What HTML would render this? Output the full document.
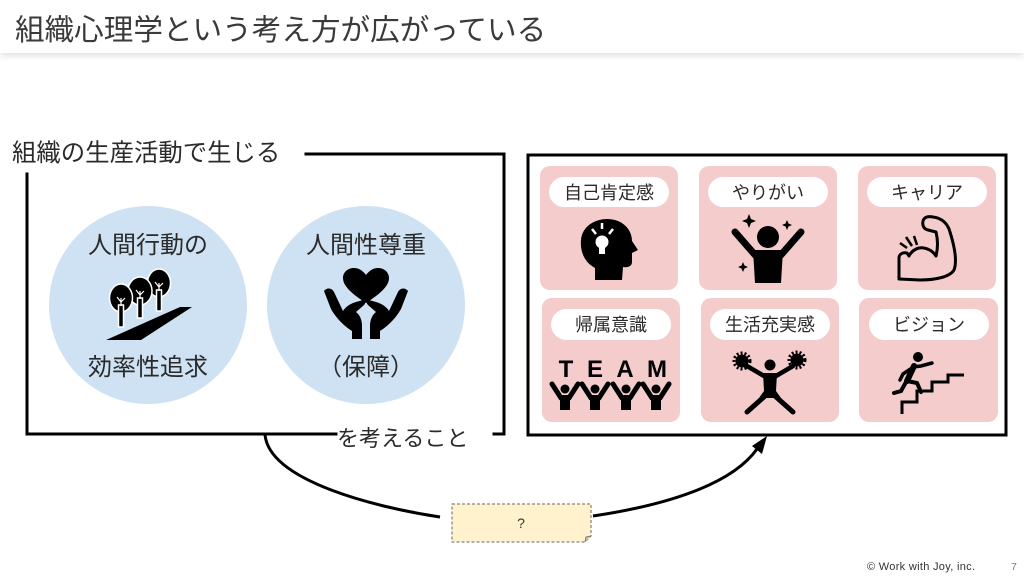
<!DOCTYPE html>
<html><head><meta charset="utf-8">
<style>
html,body{margin:0;padding:0;background:#fff;}
body{width:1024px;height:576px;overflow:hidden;position:relative;font-family:"Liberation Sans","Noto Sans CJK JP",sans-serif;}
.hdr{position:absolute;left:0;top:0;width:1024px;height:53px;background:#fff;box-shadow:0 3px 6px rgba(0,0,0,0.12);}
svg{position:absolute;left:0;top:0;}
text{font-family:"Liberation Sans","Noto Sans CJK JP",sans-serif;}
</style></head>
<body>
<div class="hdr"></div>
<svg width="1024" height="576" viewBox="0 0 1024 576">
  <!-- title -->
  <text x="15" y="40" font-size="29.6" fill="#3a3a3a">組織心理学という考え方が広がっている</text>

  <!-- left box -->
  <text x="12" y="161" font-size="24.4" fill="#2a2a2a">組織の生産活動で生じる</text>
  <g stroke="#000" stroke-width="3" fill="none" stroke-linecap="square">
    <line x1="306" y1="154" x2="504" y2="154"/>
    <line x1="504" y1="154" x2="504" y2="434"/>
    <line x1="494" y1="434" x2="504" y2="434"/>
    <line x1="27" y1="434" x2="336" y2="434"/>
    <line x1="27" y1="174" x2="27" y2="434"/>
  </g>
  <text x="337" y="446" font-size="22" fill="#2a2a2a">を考えること</text>

  <!-- circles -->
  <circle cx="148" cy="305" r="99" fill="#cfe2f3"/>
  <circle cx="366" cy="305" r="99" fill="#cfe2f3"/>
  <g font-size="24" fill="#2a2a2a" text-anchor="middle">
    <text x="148" y="253">人間行動の</text>
    <text x="148" y="375">効率性追求</text>
    <text x="366" y="253">人間性尊重</text>
    <text x="366" y="375">（保障）</text>
  </g>
  <!-- trees icon -->
  <polygon points="106,340 141,340 192,307 180,307" fill="#000"/>
  <g stroke="#fff" stroke-width="1.5">
    <ellipse cx="159" cy="283" rx="11.5" ry="14" fill="#000"/>
    <rect x="156.5" y="290" width="5" height="21" fill="#000"/>
    <ellipse cx="140" cy="291" rx="12" ry="14" fill="#000"/>
    <rect x="137.5" y="298" width="5" height="20" fill="#000"/>
    <ellipse cx="121" cy="298" rx="11.5" ry="14" fill="#000"/>
    <rect x="118.5" y="305" width="5" height="22" fill="#000"/>
  </g>
  <g stroke="#fff" stroke-width="1.2" fill="none">
    <path d="M121 306 L121 298 M121 302 L117 297 M121 302 L125 298"/>
    <path d="M140 299 L140 291 M140 295 L136 290 M140 295 L144 291"/>
    <path d="M159 291 L159 283 M159 287 L155 282 M159 287 L163 283"/>
  </g>
  <!-- heart hands -->
  <path d="M366 303 C354 295 343 287 343 278 C343 272 348 268 354 268 C359 268 363 271 366 275 C369 271 373 268 378 268 C384 268 389 272 389 278 C389 287 378 295 366 303 Z" fill="#000"/>
  <path d="M324 291 C327 287 332 288 334 292 L343 311 C346 306 352 303 356 302 L363 300 C366 300 366 303 364 305 L356 312 C360 315 362 320 362 326 L362 339 L352 339 L352 331 C344 326 336 318 331 309 Z" fill="#000"/>
  <path d="M408 291 C405 287 400 288 398 292 L389 311 C386 306 380 303 376 302 L369 300 C366 300 366 303 368 305 L376 312 C372 315 370 320 370 326 L370 339 L380 339 L380 331 C388 326 396 318 401 309 Z" fill="#000"/>

  <!-- right box -->
  <rect x="528" y="155" width="478" height="280" fill="none" stroke="#000" stroke-width="3"/>
  <g fill="#f4cccc">
    <rect x="540" y="166" width="138" height="124" rx="10"/>
    <rect x="699" y="166" width="138" height="124" rx="10"/>
    <rect x="858" y="166" width="138" height="124" rx="10"/>
    <rect x="542" y="298" width="138" height="124" rx="10"/>
    <rect x="701" y="298" width="138" height="124" rx="10"/>
    <rect x="859" y="298" width="139" height="124" rx="10"/>
  </g>
  <g fill="#fff">
    <rect x="549" y="177" width="120" height="30" rx="15"/>
    <rect x="708" y="177" width="120" height="30" rx="15"/>
    <rect x="867" y="177" width="120" height="30" rx="15"/>
    <rect x="551" y="309" width="120" height="31" rx="15.5"/>
    <rect x="710" y="309" width="120" height="31" rx="15.5"/>
    <rect x="869" y="309" width="120" height="31" rx="15.5"/>
  </g>
  <g font-size="18" fill="#2a2a2a" text-anchor="middle">
    <text x="609" y="199">自己肯定感</text>
    <text x="768" y="199">やりがい</text>
    <text x="927" y="199">キャリア</text>
    <text x="611" y="331">帰属意識</text>
    <text x="770" y="331">生活充実感</text>
    <text x="929" y="331">ビジョン</text>
  </g>

  <!-- head bulb icon -->
  <path d="M595 280 L595 268 C584 262 580 251 581 240 C582 227 594 219 607 219 C622 219 632 229 632 241 L638 250 L632 253 L632 262 C632 266 628 268 623 267 L622 280 Z" fill="#000"/>
  <circle cx="602" cy="242" r="6.5" fill="#fff"/>
  <rect x="599" y="246" width="6" height="8" fill="#fff"/>
  <g stroke="#fff" stroke-width="2.5">
    <line x1="592" y1="229" x2="596" y2="234"/>
    <line x1="602" y1="223" x2="602" y2="229"/>
    <line x1="613" y1="229" x2="609" y2="234"/>
  </g>

  <!-- yarigai person -->
  <circle cx="768" cy="237" r="11" fill="#000"/>
  <path d="M753 250 L783 250 L781 283 L755 283 Z" fill="#000"/>
  <g stroke="#000" stroke-width="7" stroke-linecap="round">
    <line x1="756" y1="256" x2="735" y2="232"/>
    <line x1="780" y1="256" x2="801" y2="232"/>
  </g>
  <path d="M749 214 L751 219 L756 221 L751 223 L749 228 L747 223 L742 221 L747 219 Z" fill="#000"/>
  <path d="M787 220 L788.5 223.5 L792 225 L788.5 226.5 L787 230 L785.5 226.5 L782 225 L785.5 223.5 Z" fill="#000"/>
  <path d="M743 262 L744.5 265.5 L748 267 L744.5 268.5 L743 272 L741.5 268.5 L738 267 L741.5 265.5 Z" fill="#000"/>

  <!-- muscle arm -->
  <path d="M899 279 L899 258 C899 254 903 252 907 253 L909 256 C912 250 918 247 924 248 C930 249 934 253 936 256 C938 248 938 240 936 232 L928 230 C924 229 922 226 923 221 C924 217 928 216 933 217 C942 218 948 224 950 232 C955 248 957 262 954 270 C950 277 935 280 920 280 Z" fill="none" stroke="#000" stroke-width="3" stroke-linejoin="round"/>
  <g stroke="#000" stroke-width="2.5">
    <line x1="900" y1="243" x2="907" y2="248"/>
    <line x1="906" y1="237" x2="912" y2="246"/>
    <line x1="914" y1="236" x2="917" y2="245"/>
  </g>

  <!-- TEAM -->
  <g font-size="24" font-weight="bold" fill="#000" text-anchor="middle" font-family="Liberation Sans, sans-serif">
    <text x="566" y="377">T</text>
    <text x="595" y="377">E</text>
    <text x="625" y="377">A</text>
    <text x="657" y="377">M</text>
  </g>
  <g fill="#000" stroke="#000">
    <g transform="translate(565,0)">
      <circle cx="0" cy="389" r="4.5" stroke="none"/>
      <rect x="-5" y="395" width="10" height="15" stroke="none"/>
      <path d="M-4 398 L-13 384" stroke-width="5" stroke-linecap="round"/>
      <path d="M4 398 L13 384" stroke-width="5" stroke-linecap="round"/>
    </g>
    <g transform="translate(595,0)">
      <circle cx="0" cy="389" r="4.5" stroke="none"/>
      <rect x="-5" y="395" width="10" height="15" stroke="none"/>
      <path d="M-4 398 L-13 384" stroke-width="5" stroke-linecap="round"/>
      <path d="M4 398 L13 384" stroke-width="5" stroke-linecap="round"/>
    </g>
    <g transform="translate(626,0)">
      <circle cx="0" cy="389" r="4.5" stroke="none"/>
      <rect x="-5" y="395" width="10" height="15" stroke="none"/>
      <path d="M-4 398 L-13 384" stroke-width="5" stroke-linecap="round"/>
      <path d="M4 398 L13 384" stroke-width="5" stroke-linecap="round"/>
    </g>
    <g transform="translate(656,0)">
      <circle cx="0" cy="389" r="4.5" stroke="none"/>
      <rect x="-5" y="395" width="10" height="15" stroke="none"/>
      <path d="M-4 398 L-13 384" stroke-width="5" stroke-linecap="round"/>
      <path d="M4 398 L13 384" stroke-width="5" stroke-linecap="round"/>
    </g>
  </g>

  <!-- cheerleader -->
  <circle cx="742" cy="361" r="6.5" fill="#000"/>
  <circle cx="742" cy="361" r="8" fill="none" stroke="#000" stroke-width="3" stroke-dasharray="2 2"/>
  <circle cx="797" cy="360" r="6.5" fill="#000"/>
  <circle cx="797" cy="360" r="8" fill="none" stroke="#000" stroke-width="3" stroke-dasharray="2 2"/>
  <circle cx="770" cy="365" r="5.5" fill="#000"/>
  <g stroke="#000" stroke-linecap="round">
    <line x1="764" y1="376" x2="747" y2="366" stroke-width="4.5"/>
    <line x1="776" y1="376" x2="793" y2="366" stroke-width="4.5"/>
    <line x1="765" y1="396" x2="747" y2="412" stroke-width="5"/>
    <line x1="775" y1="396" x2="793" y2="412" stroke-width="5"/>
  </g>
  <path d="M763 373 L777 373 L776 391 L781 398 L759 398 L764 391 Z" fill="#000"/>

  <!-- runner & stairs -->
  <polyline points="902,414 902,402 917,402 917,391 932,391 932,382 948,382 948,375 964,375" fill="none" stroke="#000" stroke-width="3"/>
  <circle cx="918" cy="357" r="5" fill="#000"/>
  <g stroke="#000" stroke-linecap="round" fill="none">
    <path d="M914 366 L907 381" stroke-width="6"/>
    <path d="M913 367 L921 366 L932 363" stroke-width="3.5"/>
    <path d="M912 368 L903 374 L900 380" stroke-width="3.5"/>
    <path d="M907 381 L917 383 L921 392" stroke-width="4"/>
    <path d="M906 382 L901 391 L894 393" stroke-width="4"/>
  </g>

  <!-- connector curves -->
  <path d="M265 435 C270 482 380 508 440 517" fill="none" stroke="#000" stroke-width="3"/>
  <path d="M593 516 C680 503 735 480 757 449" fill="none" stroke="#000" stroke-width="3"/>
  <polygon points="767,436 762,454 752,446" fill="#000"/>

  <!-- ? note -->
  <path d="M452 504 L591 504 L591 536 L585 542 L452 542 Z" fill="#fff2cc" stroke="#666" stroke-width="1" stroke-dasharray="3 2"/>
  <path d="M585 542 L586 537 L591 536" fill="#ccc2a3" stroke="#666" stroke-width="0.8"/>
  <text x="521" y="528" font-size="14" fill="#333" text-anchor="middle">?</text>

  <!-- footer -->
  <text x="867" y="570" font-size="11" fill="#333" textLength="108" lengthAdjust="spacing">© Work with Joy, inc.</text>
  <text x="1011" y="570" font-size="10.5" fill="#777">7</text>
</svg>
</body></html>
